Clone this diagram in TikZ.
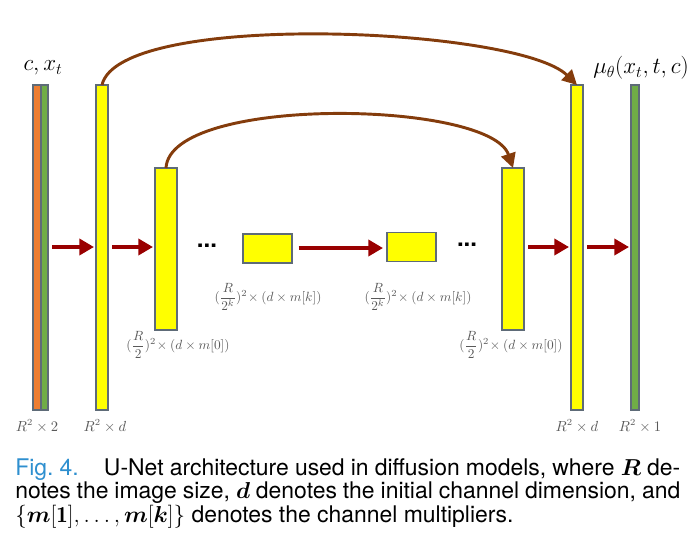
\documentclass[tikz,border=0pt]{standalone}
\usepackage{amsmath}
\usepackage{bm}
\usepackage{fontspec}
\newfontfamily\capfont{TeX Gyre Heros}
\usetikzlibrary{arrows.meta,calc}
\definecolor{borange}{HTML}{ED7D31}
\definecolor{bgreen}{HTML}{70AD47}
\definecolor{byellow}{HTML}{FFFF00}
\definecolor{bborder}{HTML}{5E6B78}
\definecolor{fwdred}{HTML}{990000}
\definecolor{skipbrown}{HTML}{843C0C}
\definecolor{lblgray}{HTML}{595959}
\definecolor{figblue}{HTML}{2E8FCF}
\begin{document}
\begin{tikzpicture}[x=0.75pt,y=-0.75pt,
  blk/.style={draw=bborder,line width=0.8pt,inner sep=0pt,outer sep=0pt,rectangle},
  tall/.style={blk,minimum height=243.75pt},
  mid/.style={blk,minimum width=16.5pt,minimum height=121.5pt,fill=byellow},
  small/.style={blk,minimum width=36.75pt,minimum height=21.75pt,fill=byellow},
  fwd/.style={draw=fwdred,line width=3pt,-{Triangle[length=11pt,width=12pt]},shorten <=3pt,shorten >=1.5pt},
  skip/.style={draw=skipbrown,line width=2.2pt,-{Triangle[length=11pt,width=11pt]}},
  lbl/.style={text=lblgray,inner sep=0pt,font=\fontsize{10.5}{12}\selectfont},
  flbl/.style={lbl,font=\fontsize{9.6}{11}\selectfont},
  biglbl/.style={inner sep=0pt,font=\fontsize{17.5}{20}\selectfont},
  dots/.style={inner sep=0pt,font=\capfont\fontsize{18}{20}\selectfont\bfseries}]
\useasboundingbox (0,0) rectangle (695,543);
% bars
\node[tall,minimum width=6pt,fill=borange] (b0o) at (37,247.5) {};
\node[tall,minimum width=5.25pt,fill=bgreen] (b0g) at (44.5,247.5) {};
\node[tall,minimum width=9pt,fill=byellow] (b1) at (102,247.5) {};
\node[mid] (b2) at (166,249) {};
\node[small] (b3) at (267.5,248.5) {};
\node[small] (b4) at (411.5,247) {};
\node[mid] (b5) at (513,249) {};
\node[tall,minimum width=9pt,fill=byellow] (b6) at (577,247.5) {};
\node[tall,minimum width=6pt,fill=bgreen] (b7) at (635,247.5) {};
% dots
\node[dots] (d1) at (207,246) {...};
\node[dots] (d2) at (467,245) {...};
% forward arrows
\draw[fwd] (b0g.east |- 0,247) -- (b1.west |- 0,247);
\draw[fwd] (b1.east |- 0,247) -- (b2.west |- 0,247);
\draw[fwd,shorten <=5pt,shorten >=3pt] (b3.east |- 0,248) -- (b4.west |- 0,248);
\draw[fwd] (b5.east |- 0,247) -- (b6.west |- 0,247);
\draw[fwd] (b6.east |- 0,247) -- (b7.west |- 0,247);
% skip connections
\draw[skip] (b1.north) .. controls +(17,-75) and +(-59,-58) .. (b6.north);
\draw[skip] (b2.north) .. controls +(4,-73) and +(-23,-68) .. (b5.north);
% labels
\node[biglbl] (lin) at (43,68) {$c,x_t$};
\node[biglbl] (lout) at (641,68) {$\mu_\theta(x_t,t,c)$};
\node[lbl] (s0) at (37,426) {$R^2\times 2$};
\node[lbl] (s1) at (105,426) {$R^2\times d$};
\node[lbl] (s6) at (577,426) {$R^2\times d$};
\node[lbl] (s7) at (640,426) {$R^2\times 1$};
\node[flbl] (s2) at (178,345) {$(\dfrac{R}{2})^2\!\times(d\times m[0])$};
\node[flbl] (s5) at (511,345) {$(\dfrac{R}{2})^2\!\times(d\times m[0])$};
\node[flbl] (s3) at (268,297) {$(\dfrac{R}{2^k})^2\!\times(d\times m[k])$};
\node[flbl] (s4) at (418,297) {$(\dfrac{R}{2^k})^2\!\times(d\times m[k])$};
% caption
\node[anchor=north west,inner sep=0pt,text width=498.75pt,align=justify] (cap) at (15,458)
  {\capfont\fontsize{17.2}{17.8}\selectfont\noindent{\color{figblue}Fig.~4.}\hspace{1.1em}U-Net architecture used in diffusion models, where $\bm{R}$ de-\linebreak notes the image size, $\bm{d}$ denotes the initial channel dimension, and\linebreak $\{\bm{m}[\mathbf{1}],\ldots,\bm{m}[\bm{k}]\}$ denotes the channel multipliers.\par};
\end{tikzpicture}
\end{document}
